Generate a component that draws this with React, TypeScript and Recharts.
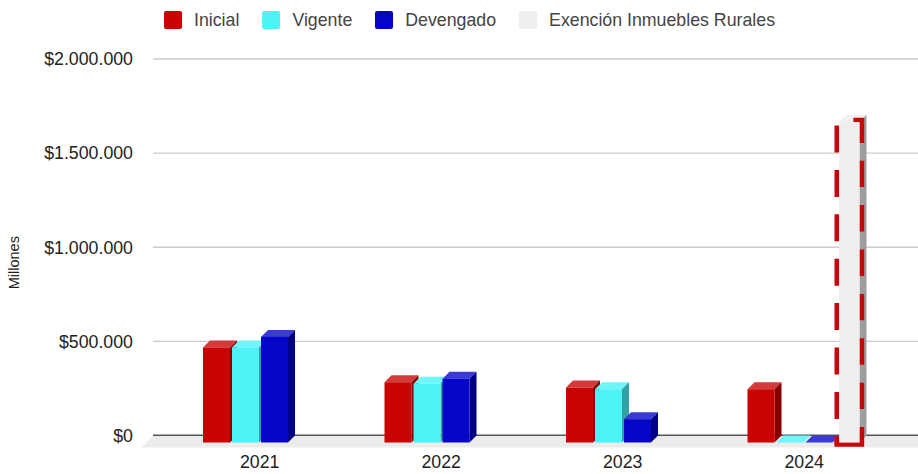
import React from 'react';
import {
  BarChart,
  Bar,
  XAxis,
  YAxis,
  CartesianGrid,
  Customized,
} from 'recharts';

// ─── Data ───────────────────────────────────────────────────────
const YEARS = ['2021', '2022', '2023', '2024'];
const INICIAL = [505000, 320000, 292000, 283000];
const VIGENTE = [505000, 312000, 283000, 0];
const DEVENGADO = [561000, 339000, 124000, 0];
const EXENCION = [null, null, null, 1702000];
const Y_TICKS = [0, 500000, 1000000, 1500000, 2000000];

const rows = YEARS.map((year, i) => ({
  year,
  inicial: INICIAL[i],
  vigente: VIGENTE[i],
  devengado: DEVENGADO[i],
  exencion: EXENCION[i],
}));

const DEPTH = 7;
const FONT = '"Liberation Sans", Arial, sans-serif';

const PALETTE = {
  inicial: { name: 'Inicial', front: '#c80404', top: '#d33a3a', side: '#860000' },
  vigente: { name: 'Vigente', front: '#4df3f7', top: '#70f5f9', side: '#33a0a3' },
  devengado: { name: 'Devengado', front: '#0606c8', top: '#3a3ad4', side: '#000086' },
  exencion: { name: 'Exención Inmuebles Rurales', front: '#eeeeee', top: '#f1f1f1', side: '#9e9e9e' },
};
type Key = keyof typeof PALETTE;
const KEYS = Object.keys(PALETTE) as Key[];

const formatMoney = (v: number) => '$' + v.toLocaleString('de-DE');

// Google-style 3D column: front face pushed down by DEPTH, top and side faces going back
function Column3D({ x, y, width, height, colors }: any) {
  const fy = y + DEPTH;
  const r = x + width;
  const b = fy + height;
  return (
    <g>
      <polygon points={`${x},${fy} ${x + DEPTH},${fy - DEPTH} ${r + DEPTH},${fy - DEPTH} ${r},${fy}`} fill={colors.top} />
      {height > 0 && (
        <polygon points={`${r},${fy} ${r + DEPTH},${fy - DEPTH} ${r + DEPTH},${b - DEPTH} ${r},${b}`} fill={colors.side} />
      )}
      {height > 0 && <rect x={x} y={fy} width={width} height={height} fill={colors.front} />}
    </g>
  );
}

// Highlighted column: same faces, red dashed frame between the side and the front
function HighlightColumn(props: any) {
  const { x, y, width, height, colors } = props;
  if (props.payload.exencion == null) return null;
  const fy = y + DEPTH;
  const b = fy + height;
  const fl = x + 4.7;
  const fr = x + width - 2;
  const sl = fl - 2.35;
  const sr = fr + 2.35;
  const st = fy - 2;
  const sb = b + 2;
  const red = { fill: 'none', stroke: '#c80404', strokeWidth: 4.7 };
  return (
    <g>
      <polygon points={`${fl},${fy} ${fl + DEPTH},${fy - DEPTH} ${fr + DEPTH},${fy - DEPTH} ${fr},${fy}`} fill={colors.top} />
      <polygon points={`${fr},${fy} ${fr + DEPTH},${fy - DEPTH} ${fr + DEPTH},${b - DEPTH} ${fr},${b}`} fill={colors.side} />
      <path d={`M${sl},${sb} V${st + 5.5}`} {...red} strokeDasharray="27 17.4" strokeDashoffset={18.8} />
      <path d={`M${sr - 8.4},${st} H${sr} V${st + 23}`} {...red} />
      <path d={`M${sr},${st + 40.6} V${sb - 16.6}`} {...red} strokeDasharray="26.4 18" />
      <path d={`M${sl},${sb - 8.2} V${sb} H${sr} V${sb - 16.6}`} {...red} />
      <rect x={fl} y={fy} width={fr - fl} height={height} fill={colors.front} />
    </g>
  );
}

const Floor = () => <polygon points="153,436 918,436 918,447.5 141.5,447.5" fill="#ececec" />;

// The zero line is a grid line too, so it stays behind the columns
function GridLine({ x1, x2, y1, y2, index }: any) {
  const isZero = y1 > 400;
  return (
    <line
      key={index}
      x1={x1}
      x2={x2}
      y1={y1}
      y2={y2}
      stroke={isZero ? '#555555' : '#cccccc'}
      strokeWidth={isZero ? 2 : 1.3}
    />
  );
}

function ChartLegend() {
  return (
    <div
      style={{
        position: 'absolute',
        left: 164,
        top: 11,
        display: 'flex',
        alignItems: 'center',
        height: 18,
        font: `17.75px ${FONT}`,
        color: '#444',
        whiteSpace: 'nowrap',
      }}
    >
      {KEYS.map((k) => (
        <div key={k} style={{ display: 'flex', alignItems: 'center', marginRight: 23 }}>
          <span style={{ width: 18, height: 18, borderRadius: 2, background: PALETTE[k].front, marginRight: 12 }} />
          <span>{PALETTE[k].name}</span>
        </div>
      ))}
    </div>
  );
}

export default function App() {
  return (
    <div style={{ position: 'absolute', left: 0, top: 0, width: 918, height: 474, background: '#fff' }}>
      <BarChart
        width={918}
        height={474}
        data={rows}
        margin={{ top: 59, right: 0, bottom: 8.5, left: 0 }}
        barSize={27}
        barGap={2}
      >
        <Customized component={<Floor />} />
        <CartesianGrid vertical={false} horizontal={(p: any) => <GridLine {...p} />} />
        <XAxis
          dataKey="year"
          axisLine={false}
          tickLine={false}
          tickSize={0}
          tickMargin={20}
          padding={{ left: 16, right: 23 }}
          tick={{ fill: '#222222', fontSize: 17.75, fontFamily: FONT }}
        />
        <YAxis
          width={153}
          domain={[0, 2000000]}
          ticks={Y_TICKS}
          interval={0}
          axisLine={false}
          tickLine={false}
          tickSize={0}
          tickMargin={20}
          tickFormatter={formatMoney}
          tick={{ fill: '#222222', fontSize: 17.75, fontFamily: FONT }}
          label={{
            value: 'Millones',
            angle: -90,
            position: 'insideLeft',
            offset: 14,
            dy: 42,
            fill: '#222222',
            fontSize: 14.5,
            fontFamily: FONT,
          }}
        />
        {KEYS.map((k) => (
          <Bar
            key={k}
            dataKey={k}
            name={PALETTE[k].name}
            fill={PALETTE[k].front}
            isAnimationActive={false}
            shape={(p: any) =>
              k === 'exencion' ? <HighlightColumn {...p} colors={PALETTE[k]} /> : <Column3D {...p} colors={PALETTE[k]} />
            }
          />
        ))}
      </BarChart>
      <ChartLegend />
    </div>
  );
}
